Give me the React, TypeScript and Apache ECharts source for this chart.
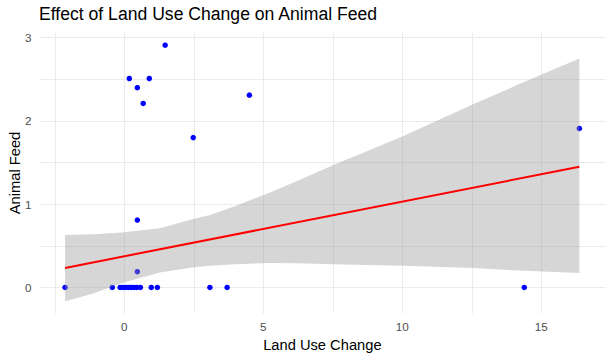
import React, { useEffect, useRef } from "react";
import * as echarts from "echarts";

// Scatter points (Land Use Change, Animal Feed)
const pointX = [
  -2.13, -0.43, -0.15, -0.05, 0.05, 0.15, 0.25, 0.35, 0.45, 0.58, 0.97, 1.19, 3.08, 3.7, 14.39,
  0.47, 0.47, 1.47, 0.18, 0.9, 0.47, 0.68, 4.5, 2.48, 16.37,
];
const pointY = [
  0, 0, 0, 0, 0, 0, 0, 0, 0, 0, 0, 0, 0, 0, 0,
  0.19, 0.81, 2.91, 2.51, 2.51, 2.4, 2.21, 2.31, 1.8, 1.91,
];

// Linear fit
const fitX = [-2.13, 16.37];
const fitY = [0.235, 1.45];

// Confidence band
const bandX = [-2.13, -1.12, -0.08, 1.28, 2.44, 3.08, 4.0, 5.24, 6.3, 7.52, 8.75, 10.04, 12.55, 14.4, 16.37];
const bandUpper = [0.63, 0.64, 0.66, 0.71, 0.82, 0.87, 0.98, 1.14, 1.29, 1.47, 1.64, 1.82, 2.2, 2.47, 2.75];
const bandLower = [-0.165, -0.072, 0.055, 0.18, 0.24, 0.26, 0.28, 0.295, 0.29, 0.28, 0.27, 0.26, 0.235, 0.2, 0.175];

const xTicksMajor = 5;
const xTicksMinor = 2.5;
const yTicksMajor = 1;
const yTicksMinor = 0.5;

const X_MIN = -3.05;
const X_MAX = 17.3;
const Y_MIN = -0.31;
const Y_MAX = 3.06;

const FONT = "'Liberation Sans', Arial, sans-serif";
const GRID_COLOR = "#ebebeb";

export default function App() {
  const ref = useRef<HTMLDivElement>(null);

  useEffect(() => {
    if (!ref.current) return;
    const chart = echarts.init(ref.current, undefined, { renderer: "svg" });

    const scatterData = pointX.map((x, i) => [x, pointY[i]]);
    const lineData = fitX.map((x, i) => [x, fitY[i]]);
    const bandData = bandX.map((x, i) => [x, bandLower[i], bandUpper[i]]);

    const hiddenAxisBits = {
      axisLine: { show: false },
      axisTick: { show: false },
    };

    chart.setOption({
      animation: false,
      textStyle: { fontFamily: FONT },
      title: {
        text: "Effect of Land Use Change on Animal Feed",
        left: 39,
        top: 5,
        padding: 0,
        textStyle: { fontSize: 17.6, fontWeight: "normal", color: "#000", fontFamily: FONT },
      },
      grid: {
        left: 39.5,
        right: 7.8,
        top: 32.7,
        bottom: 45.7,
        containLabel: false,
        outerBoundsMode: "none",
      },
      xAxis: [
        {
          type: "value",
          min: X_MIN,
          max: X_MAX,
          minInterval: xTicksMajor,
          maxInterval: xTicksMajor,
          ...hiddenAxisBits,
          axisLabel: {
            color: "#4d4d4d",
            fontSize: 11.7,
            margin: 7,
            showMinLabel: false,
            showMaxLabel: false,
            fontFamily: FONT,
          },
          splitLine: {
            show: true,
            showMinLine: false,
            showMaxLine: false,
            lineStyle: { color: GRID_COLOR, width: 1 },
          },
          name: "Land Use Change",
          nameLocation: "middle",
          nameGap: 24,
          nameMoveOverlap: false,
          nameTextStyle: { fontSize: 14.7, color: "#000", fontFamily: FONT },
        },
        {
          type: "value",
          position: "top",
          min: X_MIN,
          max: X_MAX,
          minInterval: xTicksMinor,
          maxInterval: xTicksMinor,
          ...hiddenAxisBits,
          axisLabel: { show: false },
          splitLine: {
            show: true,
            showMinLine: false,
            showMaxLine: false,
            lineStyle: { color: GRID_COLOR, width: 1 },
          },
        },
      ],
      yAxis: [
        {
          type: "value",
          min: Y_MIN,
          max: Y_MAX,
          minInterval: yTicksMajor,
          maxInterval: yTicksMajor,
          ...hiddenAxisBits,
          axisLabel: {
            color: "#4d4d4d",
            fontSize: 11.7,
            margin: 8,
            showMinLabel: false,
            showMaxLabel: false,
            fontFamily: FONT,
          },
          splitLine: {
            show: true,
            showMinLine: false,
            showMaxLine: false,
            lineStyle: { color: GRID_COLOR, width: 1 },
          },
          name: "Animal Feed",
          nameLocation: "middle",
          nameGap: 17,
          nameMoveOverlap: false,
          nameTextStyle: { fontSize: 14.7, color: "#000", fontFamily: FONT },
        },
        {
          type: "value",
          position: "right",
          min: Y_MIN,
          max: Y_MAX,
          minInterval: yTicksMinor,
          maxInterval: yTicksMinor,
          ...hiddenAxisBits,
          axisLabel: { show: false },
          splitLine: {
            show: true,
            showMinLine: false,
            showMaxLine: false,
            lineStyle: { color: GRID_COLOR, width: 1 },
          },
        },
      ],
      series: [
        {
          type: "scatter",
          xAxisIndex: 0,
          yAxisIndex: 0,
          data: scatterData,
          symbol: "circle",
          symbolSize: 5.5,
          itemStyle: { color: "#0000ff", opacity: 1 },
          z: 2,
          silent: true,
        },
        {
          type: "custom",
          xAxisIndex: 0,
          yAxisIndex: 0,
          data: bandData,
          z: 3,
          silent: true,
          renderItem: (params: any, api: any) => {
            if (params.dataIndex !== 0) return null;
            const pts: number[][] = [];
            for (let i = 0; i < bandX.length; i++) pts.push(api.coord([bandX[i], bandUpper[i]]));
            for (let i = bandX.length - 1; i >= 0; i--) pts.push(api.coord([bandX[i], bandLower[i]]));
            return {
              type: "polygon",
              shape: { points: pts },
              style: { fill: "rgba(153,153,153,0.4)", stroke: "none" },
            };
          },
        },
        {
          type: "line",
          xAxisIndex: 0,
          yAxisIndex: 0,
          data: lineData,
          showSymbol: false,
          symbol: "none",
          lineStyle: { color: "#ff0000", width: 2 },
          z: 4,
          silent: true,
        },
      ],
    });

    return () => chart.dispose();
  }, []);

  return <div ref={ref} style={{ width: 613, height: 359, position: "absolute", left: 0, top: 0 }} />;
}
